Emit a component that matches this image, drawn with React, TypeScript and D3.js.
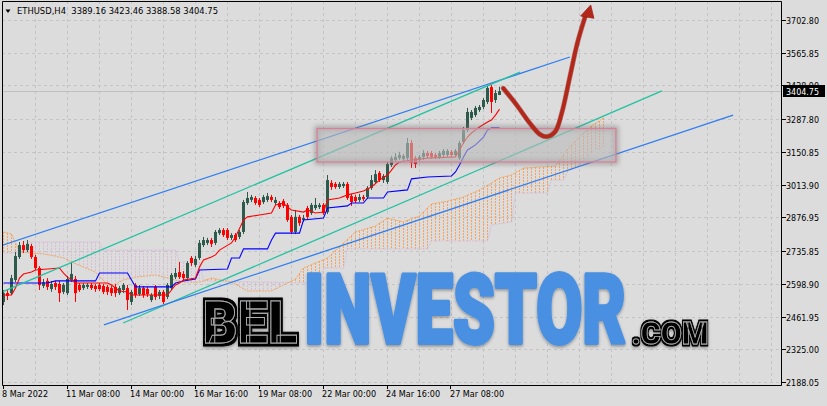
import React, { useEffect, useLayoutEffect, useRef, useState } from 'react';
import * as d3 from 'd3';

// ---------- candle data (H4 bars, 8 Mar 16:00 .. 29 Mar 08:00) ----------
const opens = [
  2523, 2560, 2560, 2615, 2711, 2761, 2740, 2757, 2711, 2665,
  2590, 2611, 2577, 2602, 2598, 2565, 2560, 2615, 2619, 2594,
  2581, 2586, 2594, 2590, 2594, 2590, 2586, 2581, 2586, 2560,
  2573, 2581, 2523, 2594, 2556, 2581, 2577, 2531, 2586, 2548,
  2565, 2544, 2581, 2627, 2648, 2640, 2623, 2707, 2678, 2707,
  2761, 2770, 2782, 2770, 2811, 2824, 2824, 2791, 2803, 2795,
  2816, 2937, 2950, 2958, 2950, 2941, 2950, 2962, 2937, 2937,
  2945, 2929, 2879, 2816, 2879, 2866, 2916, 2895, 2916, 2920,
  2929, 2899, 3021, 3017, 3004, 3008, 3017, 2966, 2962, 2950,
  2962, 2962, 3000, 3025, 3063, 3033, 3025, 3096, 3117, 3125,
  3121, 3125, 3188, 3125, 3117, 3130, 3146, 3146, 3138, 3130,
  3138, 3138, 3151, 3138, 3125, 3192, 3243, 3293, 3305, 3326,
  3339, 3360, 3422, 3368, 3389.16,
];
const highs = [
  2573, 2577, 2636, 2732, 2774, 2778, 2782, 2766, 2720, 2673,
  2619, 2623, 2611, 2611, 2611, 2602, 2632, 2686, 2632, 2602,
  2602, 2602, 2602, 2598, 2602, 2598, 2594, 2590, 2598, 2590,
  2602, 2594, 2573, 2602, 2594, 2590, 2586, 2560, 2594, 2573,
  2573, 2602, 2644, 2665, 2690, 2652, 2694, 2715, 2715, 2782,
  2795, 2791, 2791, 2824, 2832, 2832, 2832, 2811, 2811, 2824,
  2950, 2983, 2971, 2966, 2958, 2971, 2979, 2971, 2962, 2945,
  2954, 2937, 2887, 2908, 2887, 2887, 2925, 2937, 2958, 2937,
  2937, 3054, 3033, 3025, 3025, 3025, 3025, 2975, 2971, 2975,
  2971, 3008, 3054, 3075, 3071, 3058, 3109, 3134, 3146, 3151,
  3142, 3209, 3201, 3134, 3138, 3159, 3155, 3155, 3146, 3155,
  3163, 3163, 3159, 3163, 3197, 3255, 3335, 3326, 3343, 3347,
  3376, 3427, 3431, 3410, 3423.46,
];
const lows = [
  2510, 2531, 2552, 2606, 2703, 2728, 2732, 2703, 2657, 2573,
  2581, 2573, 2565, 2573, 2523, 2556, 2552, 2606, 2523, 2565,
  2573, 2577, 2573, 2565, 2569, 2556, 2552, 2548, 2544, 2552,
  2560, 2489, 2510, 2540, 2548, 2540, 2544, 2523, 2531, 2535,
  2514, 2535, 2573, 2619, 2619, 2611, 2615, 2673, 2669, 2699,
  2753, 2761, 2753, 2761, 2803, 2795, 2782, 2782, 2774, 2786,
  2807, 2929, 2941, 2929, 2920, 2933, 2941, 2941, 2929, 2912,
  2916, 2858, 2807, 2807, 2841, 2858, 2870, 2887, 2908, 2912,
  2887, 2891, 2992, 2996, 2996, 3000, 2950, 2925, 2937, 2941,
  2945, 2954, 2992, 3017, 3025, 3021, 3017, 3088, 3109, 3117,
  3113, 3117, 3084, 3084, 3109, 3117, 3125, 3121, 3121, 3121,
  3130, 3130, 3130, 3130, 3117, 3184, 3234, 3284, 3297, 3318,
  3330, 3351, 3314, 3356, 3388.58,
];
const closes = [
  2560, 2548, 2623, 2715, 2761, 2740, 2766, 2711, 2665, 2594,
  2606, 2586, 2598, 2586, 2560, 2594, 2619, 2640, 2560, 2573,
  2594, 2594, 2581, 2577, 2577, 2565, 2565, 2560, 2560, 2581,
  2594, 2531, 2565, 2552, 2581, 2552, 2556, 2552, 2544, 2565,
  2523, 2594, 2636, 2644, 2627, 2623, 2686, 2686, 2703, 2770,
  2782, 2782, 2766, 2816, 2824, 2803, 2791, 2803, 2782, 2816,
  2941, 2958, 2962, 2937, 2929, 2962, 2966, 2950, 2950, 2920,
  2925, 2866, 2816, 2879, 2853, 2874, 2879, 2929, 2929, 2929,
  2895, 3033, 3004, 3004, 3017, 3017, 2958, 2941, 2945, 2962,
  2954, 3000, 3033, 3058, 3033, 3050, 3100, 3125, 3130, 3138,
  3134, 3188, 3105, 3100, 3130, 3146, 3134, 3130, 3130, 3146,
  3155, 3155, 3138, 3155, 3188, 3243, 3318, 3318, 3335, 3339,
  3368, 3418, 3360, 3397, 3404.75,
];

// ---------- Ichimoku lines (vertices: bar index, price) ----------
const tenkanBars = [0, 2, 3, 4, 5, 7, 8, 14, 15, 16, 18, 26, 27, 28, 29, 31, 32, 41, 42, 43, 44, 45, 48, 49, 50, 52, 53, 54, 57, 58, 60, 61, 64, 67, 68, 70, 71, 72, 75, 76, 78, 80, 81, 84, 86, 88, 90, 92, 94, 96, 97, 98, 99, 102, 106, 113, 114, 115, 116, 117, 119, 121, 122, 123, 124];
const tenkanVals = [2552, 2552, 2581, 2623, 2640, 2648, 2657, 2665, 2644, 2627, 2602, 2602, 2594, 2581, 2569, 2565, 2552, 2552, 2573, 2594, 2602, 2615, 2623, 2669, 2699, 2711, 2720, 2740, 2770, 2795, 2866, 2879, 2887, 2895, 2929, 2937, 2920, 2908, 2899, 2908, 2895, 2899, 2950, 2958, 2971, 2979, 2987, 3004, 3033, 3054, 3075, 3096, 3109, 3117, 3125, 3130, 3159, 3188, 3213, 3230, 3255, 3276, 3284, 3305, 3330];
const kijunBars = [0, 11, 13, 23, 24, 31, 32, 33, 42, 43, 45, 48, 49, 56, 57, 59, 60, 66, 67, 68, 74, 75, 80, 81, 86, 87, 90, 91, 95, 96, 101, 102, 106, 112, 113, 114, 115, 116, 118, 120, 121, 122, 124];
const kijunVals = [2602, 2602, 2611, 2611, 2644, 2644, 2615, 2586, 2586, 2602, 2611, 2619, 2657, 2661, 2707, 2707, 2745, 2745, 2782, 2811, 2811, 2866, 2874, 2916, 2925, 2937, 2937, 2958, 2958, 2983, 2992, 3038, 3046, 3050, 3067, 3096, 3130, 3159, 3180, 3213, 3243, 3251, 3251];
const spanABars = [0, 2, 3, 4, 10, 13, 15, 17, 20, 23, 26, 28, 30, 33, 38, 42, 45, 49, 52, 57, 61, 67, 70, 73, 75, 78, 81, 85, 88, 93, 96, 100, 104, 107, 111, 115, 119, 122, 124, 127, 130, 134, 138, 141, 144, 147, 150];
const spanAVals = [2816, 2807, 2770, 2732, 2724, 2715, 2707, 2690, 2669, 2648, 2594, 2598, 2615, 2627, 2636, 2619, 2606, 2606, 2623, 2606, 2569, 2569, 2594, 2619, 2665, 2686, 2707, 2770, 2816, 2841, 2874, 2858, 2883, 2933, 2945, 2962, 2992, 3021, 3042, 3054, 3083, 3088, 3092, 3163, 3213, 3259, 3293];
const spanBBars = [0, 5, 6, 24, 25, 43, 44, 49, 50, 79, 80, 85, 86, 106, 107, 121, 122, 127, 128, 136, 137, 140, 141, 144, 146, 148, 150];
const spanBVals = [2728, 2728, 2774, 2774, 2740, 2740, 2690, 2690, 2611, 2602, 2665, 2665, 2745, 2745, 2778, 2778, 2845, 2858, 2979, 2979, 3033, 3033, 3067, 3096, 3130, 3159, 3171];
const cloudLastBar = 150;

// ---------- drawn objects (bar index, price) ----------
const blueUpperBars = [-1, 141.6];
const blueUpperPrices = [2756, 3548];
const greenUpperBars = [-1, 129.1];
const greenUpperPrices = [2560, 3485];
const greenLowerBars = [29.9, 164.6];
const greenLowerPrices = [2435, 3406];
const blueLowerBars = [25.1, 182.4];
const blueLowerPrices = [2427, 3305];
const rectBars = [78.4, 153.1];
const rectPrices = [3108.6, 3248.8];
const arrowBars = [124.95, 128.3, 131.6, 134.1, 135.8, 137.9, 139.55, 141.6, 143.45, 145.4];
const arrowPrices = [3417, 3347, 3270.6, 3224.5, 3214.5, 3235.4, 3312.4, 3465.6, 3605.3, 3716.6];
const arrowHeadBars = [146.8, 144.3, 147.6];
const arrowHeadPrices = [3765.6, 3719.5, 3709.9];

// ---------- axes ----------
const priceTicks = [2188.05, 2325.0, 2461.95, 2598.9, 2735.85, 2876.95, 3013.9, 3150.85, 3287.8, 3428.9, 3565.85, 3702.8];
const priceLabels = ['2188.05', '2325.00', '2461.95', '2598.90', '2735.85', '2876.95', '3013.90', '3150.85', '3287.80', '3428.90', '3565.85', '3702.80'];
const timeBars = [0, 16, 32, 48, 64, 80, 96, 112];
const timeLabels = ['8 Mar 2022', '11 Mar 08:00', '14 Mar 00:00', '16 Mar 16:00', '19 Mar 08:00', '22 Mar 00:00', '24 Mar 16:00', '27 Mar 08:00'];
const lastPrice = 3404.75;
const headerText = 'ETHUSD,H4  3389.16 3423.46 3388.58 3404.75';
const watermarkParts = ['BEL', 'INVESTOR', '.COM'];

const W = 827, H = 406;
const PL = 2, PT = 1, PR = 781, PB = 385;
const BG = '#dcdcdc';
const GRID = '#c4c4c4';
const BULL = '#2e5a4b';
const BEAR = '#ff0000';
const SANDY = '#f4a460';
const THISTLE = '#d8bfd8';
const FONT = "'DejaVu Sans Condensed', 'DejaVu Sans', sans-serif";

type P = [number, number];

export default function App() {
  useEffect(() => {
    document.body.style.margin = '0';
  }, []);

  const wmRefs = [useRef<SVGTextElement>(null), useRef<SVGTextElement>(null), useRef<SVGTextElement>(null)];
  const wmTargets = [95, 322, 77];
  const [wmScale, setWmScale] = useState<number[]>([0.5, 0.55, 0.8]);
  useLayoutEffect(() => {
    setWmScale(
      wmRefs.map((r, i) => {
        const el = r.current;
        if (!el) return 1;
        const len = el.getComputedTextLength();
        return len > 0 ? wmTargets[i] / len : 1;
      })
    );
  }, []);

  const x = d3.scaleLinear().domain([0, 124]).range([3.5, 499.5]);
  const y = d3.scaleLinear().domain([2188.05, 3702.8]).range([382, 20]);
  const zip = (b: number[], v: number[]): P[] => b.map((bb, i) => [bb, v[i]] as P);
  const line = d3.line<P>().x(d => x(d[0])).y(d => y(d[1]));
  const smooth = d3.line<P>().x(d => x(d[0])).y(d => y(d[1])).curve(d3.curveCatmullRom.alpha(0.5));

  // piecewise scales along the drawn span polylines (geometry of the cloud fill)
  const spanAAt = d3.scaleLinear().domain(spanABars).range(spanAVals);
  const spanBAt = d3.scaleLinear().domain(spanBBars).range(spanBVals);
  const hatchBars = d3.range(0, cloudLastBar + 1);

  const gridX: number[] = d3.range(1, 25).map(k => 8 * k);

  const trend = (b: number[], p: number[], color: string, key: string) => (
    <line key={key} x1={x(b[0])} y1={y(p[0])} x2={x(b[1])} y2={y(p[1])} stroke={color} strokeWidth={1.3} />
  );

  const rx0 = x(rectBars[0]), rx1 = x(rectBars[1]);
  const ry0 = y(rectPrices[1]), ry1 = y(rectPrices[0]);
  const head = zip(arrowHeadBars, arrowHeadPrices).map(d => [x(d[0]), y(d[1])].join(',')).join(' ');
  const yLast = Math.round(y(lastPrice)) + 0.5;

  return (
    <svg width={W} height={H} style={{ position: 'absolute', left: 0, top: 0, display: 'block' }} fontFamily={FONT}>
      <defs>
        <clipPath id="plot"><rect x={PL} y={PT} width={PR - PL} height={PB - PT} /></clipPath>
        <filter id="blur3" x="-20%" y="-50%" width="140%" height="200%">
          <feGaussianBlur stdDeviation={2.5} />
        </filter>
        <filter id="wmShadow" x="-10%" y="-20%" width="120%" height="150%">
          <feDropShadow dx={0} dy={1.5} stdDeviation={1.5} floodColor="#000" floodOpacity={0.35} />
        </filter>
        <filter id="inl" x="-10%" y="-20%" width="120%" height="140%">
          <feMorphology in="SourceAlpha" operator="dilate" radius={2.5} result="dil" />
          <feFlood floodColor="#000" result="blk" />
          <feComposite in="blk" in2="dil" operator="in" result="outer" />
          <feMerge>
            <feMergeNode in="outer" />
            <feMergeNode in="SourceGraphic" />
          </feMerge>
        </filter>
        <filter id="inlS" x="-10%" y="-30%" width="120%" height="160%">
          <feMorphology in="SourceAlpha" operator="dilate" radius={1.5} result="dil" />
          <feFlood floodColor="#000" result="blk" />
          <feComposite in="blk" in2="dil" operator="in" result="outer" />
          <feMerge>
            <feMergeNode in="outer" />
            <feMergeNode in="SourceGraphic" />
          </feMerge>
        </filter>
      </defs>

      <rect x={0} y={0} width={W} height={H} fill={BG} />

      {/* grid */}
      <g stroke={GRID} strokeWidth={1} strokeDasharray="3,3" clipPath="url(#plot)">
        {priceTicks.map((p, i) => (
          <line key={'h' + i} x1={PL} x2={PR} y1={Math.round(y(p)) + 0.5} y2={Math.round(y(p)) + 0.5} />
        ))}
        {gridX.map(b => (
          <line key={'v' + b} x1={x(b)} x2={x(b)} y1={PT} y2={PB} />
        ))}
      </g>

      <g clipPath="url(#plot)">
        {/* last price line */}
        <line x1={PL} x2={PR} y1={yLast} y2={yLast} stroke="#c0c0c0" strokeWidth={1} />

        {/* ichimoku cloud hatch: one dotted bar per bar between the spans */}
        {hatchBars.map(b => {
          const a = spanAAt(b);
          const bb = spanBAt(b);
          const y1 = Math.round(y(Math.max(a, bb)));
          const y2 = Math.round(y(Math.min(a, bb)));
          return (
            <line key={'hb' + b} x1={x(b)} x2={x(b)} y1={y1} y2={y2}
              stroke={a >= bb ? SANDY : THISTLE} strokeWidth={1} strokeDasharray="2,1" />
          );
        })}
        <path d={line(zip(spanBBars, spanBVals)) || ''} fill="none" stroke={THISTLE} strokeWidth={1} strokeDasharray="2,1" />
        <path d={line(zip(spanABars, spanAVals)) || ''} fill="none" stroke={SANDY} strokeWidth={1} strokeDasharray="2,1" />

        {/* candles */}
        {opens.map((o, i) => {
          const c = closes[i];
          const col = c >= o ? BULL : BEAR;
          const cx = x(i);
          const yt = y(Math.max(o, c));
          const yb = y(Math.min(o, c));
          return (
            <g key={'c' + i}>
              <line x1={cx} x2={cx} y1={y(highs[i])} y2={y(lows[i])} stroke={col} strokeWidth={1} />
              <rect x={cx - 1.5} y={yt} width={3} height={Math.max(1, yb - yt)} fill={col} />
            </g>
          );
        })}

        {/* tenkan / kijun */}
        <path d={line(zip(kijunBars, kijunVals)) || ''} fill="none" stroke="#0000ff" strokeWidth={1.1} />
        <path d={line(zip(tenkanBars, tenkanVals)) || ''} fill="none" stroke="#ff0000" strokeWidth={1.1} />

        {/* trend lines */}
        {trend(blueUpperBars, blueUpperPrices, '#2f7ef0', 'bu')}
        {trend(greenUpperBars, greenUpperPrices, '#22c2a2', 'gu')}
        {trend(greenLowerBars, greenLowerPrices, '#22c2a2', 'gl')}
        {trend(blueLowerBars, blueLowerPrices, '#2f7ef0', 'bl')}

        {/* rectangle */}
        <rect x={rx0} y={ry0} width={rx1 - rx0} height={ry1 - ry0} fill="none" stroke="#707070" strokeWidth={5} opacity={0.5} filter="url(#blur3)" />
        <rect x={rx0} y={ry0} width={rx1 - rx0} height={ry1 - ry0} fill="rgba(185,185,185,0.62)" stroke="#e07c98" strokeWidth={1.2} />

        {/* arrow */}
        <path d={smooth(zip(arrowBars, arrowPrices)) || ''} fill="none" stroke="#8e1f14" strokeWidth={5} strokeLinecap="round" opacity={0.5} />
        <path d={smooth(zip(arrowBars, arrowPrices)) || ''} fill="none" stroke="#b3281b" strokeWidth={3.8} strokeLinecap="round" />
        <polygon points={head} fill="#b3281b" stroke="#9a2216" strokeWidth={0.8} />
      </g>

      {/* frame */}
      <path d={`M${PL + 0.5},${PT + 0.5} H${PR + 0.5} V${PB + 0.5} H${PL + 0.5} Z`} fill="none" stroke="#000" strokeWidth={1} />

      {/* price axis */}
      <g fontSize={9} fill="#000">
        {priceTicks.map((p, i) => {
          const yy = Math.round(y(p)) + 0.5;
          return (
            <g key={'pt' + i}>
              <line x1={PR + 1} x2={PR + 5} y1={yy} y2={yy} stroke="#000" />
              <text x={786} y={yy + 3.5} fontStretch="condensed" textLength={33} lengthAdjust="spacingAndGlyphs">{priceLabels[i]}</text>
            </g>
          );
        })}
        <rect x={783} y={yLast - 6.5} width={42} height={12} fill="#000" />
        <text x={786} y={yLast + 3.5} fill="#fff" fontStretch="condensed" textLength={33} lengthAdjust="spacingAndGlyphs">{lastPrice.toFixed(2)}</text>
      </g>

      {/* time axis */}
      <g fontSize={9} fill="#000">
        {timeBars.map((b, i) => (
          <g key={'tt' + i}>
            <line x1={Math.round(x(b)) - 0.5} x2={Math.round(x(b)) - 0.5} y1={PB} y2={PB + 4} stroke="#000" />
            <text x={x(b) - 1.5} y={397} fontStretch="condensed">{timeLabels[i]}</text>
          </g>
        ))}
      </g>

      {/* header */}
      <path d="M5.5,9.5 L10.5,9.5 L8,13 Z" fill="#000" />
      <text x={17} y={14.3} fontSize={9} fill="#000" fontStretch="condensed" textLength={201} lengthAdjust="spacingAndGlyphs" style={{ whiteSpace: 'pre' }}>{headerText}</text>

      {/* watermark */}
      <g filter="url(#wmShadow)" fontFamily="Roboto, 'DejaVu Sans', sans-serif" fontWeight={900}>
        <g transform={`translate(202.5,342.5) scale(${wmScale[0]},1)`}>
          <text ref={wmRefs[0]} x={0} y={0} fontSize={60} fill="#000" stroke="#b0b0b0" strokeWidth={1} filter="url(#inl)">{watermarkParts[0]}</text>
        </g>
        <g transform={`translate(304,343) scale(${wmScale[1]},1)`}>
          <text ref={wmRefs[1]} x={0} y={0} fontSize={97} fill="#4a90e2" stroke="#4a90e2" strokeWidth={4} strokeLinejoin="round">{watermarkParts[1]}</text>
        </g>
        <g transform={`translate(631.5,343.5) scale(${wmScale[2]},1)`}>
          <text ref={wmRefs[2]} x={0} y={0} fontSize={31} fill="#000" stroke="#b0b0b0" strokeWidth={0.8} filter="url(#inlS)">{watermarkParts[2]}</text>
        </g>
      </g>
    </svg>
  );
}
